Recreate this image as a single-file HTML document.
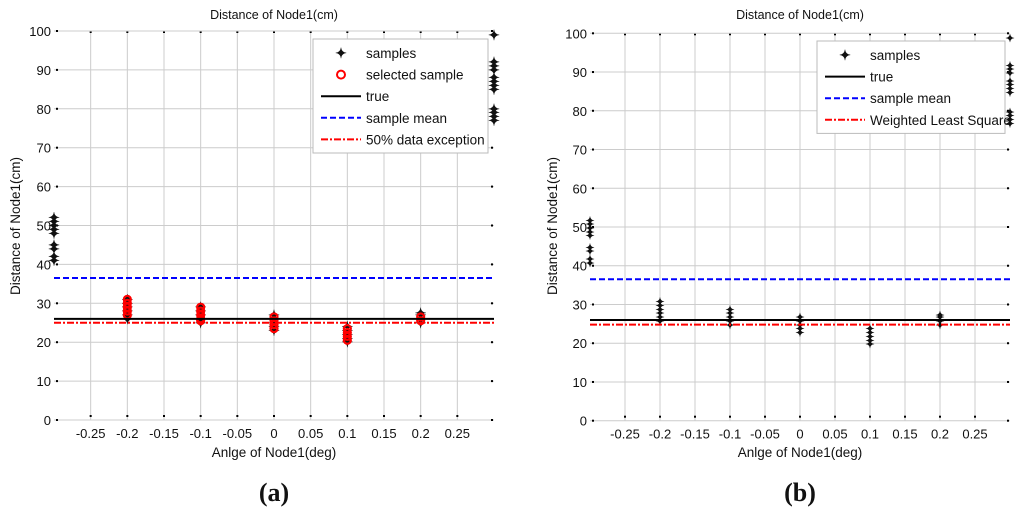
<!DOCTYPE html>
<html><head><meta charset="utf-8"><style>
body{margin:0;background:#fff;width:1024px;height:512px;overflow:hidden}
svg{display:block}
text{font-family:"Liberation Sans",sans-serif;fill:#111}
text.serif{font-family:"Liberation Serif",serif}
</style></head><body>
<svg id="s" width="1024" height="512"></svg>
<script>
const xTicks=[-0.25,-0.2,-0.15,-0.1,-0.05,0,0.05,0.1,0.15,0.2,0.25];
const yTicks=[0,10,20,30,40,50,60,70,80,90,100];
const sampleX=[-0.3,-0.2,-0.1,0,0.1,0.2,0.3];
const sampleVals=[[41,42,44,45,48,49,50,51,52],[26,27,28,29,30,31],[25,26,27,28,29],[23,24,25,26,27],[20,21,22,23,24],[25,26,27,27.5],[77,78,79,80,85,86,87,88,90,91,92,99]];
const selectedVals=[[],[27,28,29,30,31],[25.5,26,27,28,29],[23.5,24.5,25.5,26.5],[20.5,21.5,22.5,23.5],[25.5,26.5],[]];
const trueVal=26, meanVal=36.5, exceptVal=25, wlsVal=24.8;
const NS='http://www.w3.org/2000/svg', svg=document.getElementById('s');
function el(t,a,p){const e=document.createElementNS(NS,t);for(const k in a)e.setAttribute(k,a[k]);(p||svg).appendChild(e);return e;}
function panel(P){
  const g=el('g',{});
  
  
  const sx=v=>P.x0+(v+0.3)/0.6*(P.x1-P.x0), sy=v=>P.y0-v/100*(P.y0-P.y1);
  xTicks.forEach(t=>{el('line',{x1:sx(t),x2:sx(t),y1:P.y1,y2:P.y0,stroke:'#ccc','stroke-width':1},g);
    el('rect',{x:sx(t)-1,y:P.y0-5,width:2,height:2,fill:'#000'},g);el('rect',{x:sx(t)-1,y:P.y1,width:2,height:2,fill:'#000'},g);
    const tx=el('text',{x:sx(t),y:P.y0+18,'text-anchor':'middle','font-size':13},g);tx.textContent=t;
    });
  yTicks.forEach(t=>{el('line',{x1:P.x0,x2:P.x1,y1:sy(t),y2:sy(t),stroke:'#ccc','stroke-width':1},g);
    el('rect',{x:P.x0+2,y:sy(t)-1,width:2,height:2,fill:'#000'},g);el('rect',{x:P.x1-3,y:sy(t)-1,width:2,height:2,fill:'#000'},g);
    const tx=el('text',{x:P.x0-3,y:sy(t)+5,'text-anchor':'end','font-size':13},g);tx.textContent=t;
    });
  sampleX.forEach((x,i)=>{sampleVals[i].forEach(v=>{
    const m=el('text',{x:sx(x),y:sy(v)+5,'text-anchor':'middle','font-size':P.light?11:14,fill:P.light?'#444':'#000','font-weight':'bold'},g);m.textContent='✦';
    });
    if(P.sel)selectedVals[i].forEach(v=>{const c=el('circle',{cx:sx(x),cy:sy(v),r:3.5,fill:'none',stroke:'#f00','stroke-width':2.2},g);
      });});
  const L=(v,c,d,n)=>{const l=el('line',{x1:P.x0,x2:P.x1,y1:sy(v),y2:sy(v),stroke:c,'stroke-width':2,'stroke-dasharray':d},g);
    };
  L(trueVal,'#000','','true-line');L(meanVal,'#0000ff','6 3','sample-mean-line');L(P.red,'#f00','7 2 2 2','red-line');
  let t=el('text',{x:(P.x0+P.x1)/2,y:19,'text-anchor':'middle','font-size':12.5},g);t.textContent='Distance of Node1(cm)';
  
  t=el('text',{x:(P.x0+P.x1)/2,y:457,'text-anchor':'middle','font-size':13.5},g);t.textContent='Anlge of Node1(deg)';
  
  t=el('text',{x:P.yl,y:226,'text-anchor':'middle','font-size':13.5,transform:`rotate(-90 ${P.yl} 226)`},g);t.textContent='Distance of Node1(cm)';
  
  t=el('text',{x:(P.x0+P.x1)/2,y:501,'text-anchor':'middle','font-size':26,'font-weight':'bold','class':'serif'},g);
  t.textContent='('+P.lab+')';
  const lg=el('g',{},g);
  el('rect',{x:P.lx,y:P.ly,width:P.lw,height:P.items.length*21.6+6,fill:'#fff',stroke:'#bbb'},lg);
  P.items.forEach((it,i)=>{const y=P.ly+14+i*21.6,x0=P.lx+8,x1=P.lx+48;
    if(it[0]=='m'){const m=el('text',{x:(x0+x1)/2,y:y+5,'text-anchor':'middle','font-size':14,'font-weight':'bold'},lg);m.textContent='✦';}
    else if(it[0]=='o')el('circle',{cx:(x0+x1)/2,cy:y,r:4,fill:'none',stroke:'#f00','stroke-width':2},lg);
    else el('line',{x1:x0,x2:x1,y1:y,y2:y,stroke:it[0],'stroke-width':2,'stroke-dasharray':it[2]},lg);
    const tt=el('text',{x:P.lx+53,y:y+5,'font-size':13.5},lg);tt.textContent=it[1];
    });
}
panel({name:'panel-a',x0:54,x1:494,y0:420,y1:31,yl:20,sel:true,red:exceptVal,lab:'a',lx:313,ly:39,lw:175,
 items:[['m','samples'],['o','selected sample'],['#000','true',''],['#0000ff','sample mean','6 3'],['#f00','50% data exception','7 2 2 2']]});
panel({name:'panel-b',x0:590,x1:1010,y0:420.7,y1:33.3,yl:557,sel:false,light:true,red:wlsVal,lab:'b',lx:817,ly:41,lw:188,
 items:[['m','samples'],['#000','true',''],['#0000ff','sample mean','6 3'],['#f00','Weighted Least Square','7 2 2 2']]});
</script></body></html>
